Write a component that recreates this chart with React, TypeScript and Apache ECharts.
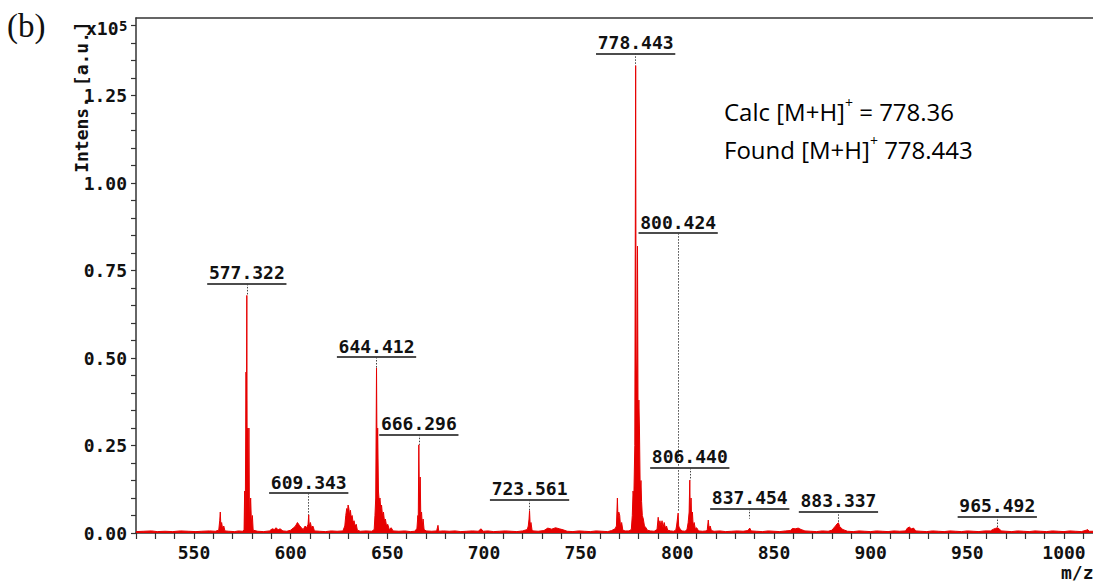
import React, { useEffect, useRef } from "react";
import * as echarts from "echarts";

// MALDI-TOF spectrum: [m/z, intensity (x10^5 a.u.)]
const spectrum: [number, number][] = [
  [520, 0.004], [524, 0.005], [528, 0.006], [531, 0.004], [535, 0.005], [539, 0.004], [543, 0.006], [547, 0.005],
  [551, 0.004], [554, 0.005], [558, 0.006], [561, 0.005],
  [562.8, 0.008], [563.3, 0.035], [563.6, 0.06], [563.9, 0.02], [564.3, 0.03], [564.8, 0.012], [565.4, 0.02], [566, 0.006],
  [568, 0.005], [571, 0.004], [573, 0.006], [575, 0.005],
  [575.9, 0.008], [576.2, 0.12], [576.5, 0.01], [576.9, 0.46], [577.1, 0.3], [577.322, 0.679], [577.5, 0.2], [577.8, 0.3],
  [578.1, 0.05], [578.4, 0.3], [578.7, 0.03], [579.3, 0.1], [579.7, 0.03], [580.2, 0.05], [580.6, 0.008],
  [583, 0.005], [586, 0.004], [589, 0.006], [590.5, 0.012], [591.5, 0.01], [592.5, 0.015], [593.5, 0.009], [594.5, 0.012],
  [596, 0.006], [598, 0.005], [600, 0.008], [601.5, 0.015], [602.5, 0.02], [603.5, 0.03], [604.5, 0.022], [605.5, 0.015],
  [606.5, 0.01], [607.5, 0.02], [608.3, 0.015], [609.0, 0.025], [609.343, 0.052], [609.6, 0.02], [610.2, 0.03], [610.8, 0.015],
  [611.5, 0.02], [612.3, 0.006],
  [615, 0.005], [618, 0.004], [621, 0.006], [624, 0.005], [627, 0.006],
  [628.0, 0.02], [628.5, 0.05], [629.0, 0.07], [629.4, 0.06], [629.7, 0.08], [630.1, 0.07], [630.5, 0.05], [630.9, 0.065],
  [631.3, 0.045], [631.8, 0.05], [632.3, 0.03], [632.8, 0.035], [633.3, 0.02], [633.9, 0.025], [634.5, 0.008],
  [636, 0.005], [639, 0.006], [642, 0.005], [643.2, 0.01], [643.6, 0.05], [644.0, 0.1], [644.412, 0.472], [644.7, 0.2],
  [645.0, 0.3], [645.4, 0.12], [645.8, 0.09], [646.2, 0.1], [646.6, 0.07], [647.0, 0.08], [647.5, 0.05], [648.0, 0.06],
  [648.5, 0.035], [649.0, 0.04], [649.6, 0.02], [650.2, 0.025], [651, 0.01], [652, 0.015], [653, 0.006],
  [656, 0.005], [659, 0.006], [662, 0.004], [664, 0.005], [665.3, 0.012], [665.8, 0.05], [666.0, 0.04], [666.296, 0.252],
  [666.6, 0.08], [667.0, 0.16], [667.3, 0.05], [667.7, 0.06], [668.1, 0.02], [668.5, 0.04], [669, 0.01], [670, 0.006],
  [673, 0.005], [675.5, 0.006], [676.2, 0.022], [676.6, 0.005], [679, 0.006], [682, 0.005], [685, 0.006], [688, 0.004],
  [691, 0.005], [694, 0.006], [697, 0.005], [698.5, 0.012], [699.5, 0.005], [702, 0.006], [705, 0.004], [708, 0.005],
  [711, 0.006], [714, 0.005], [717, 0.004], [720, 0.006], [722.4, 0.01], [722.9, 0.02], [723.3, 0.04], [723.561, 0.064],
  [723.9, 0.02], [724.3, 0.03], [724.8, 0.01], [725.5, 0.006],
  [728, 0.005], [731, 0.007], [733, 0.014], [735, 0.011], [737, 0.015], [739, 0.012], [741, 0.009], [743, 0.005],
  [746, 0.004], [749, 0.006], [752, 0.005], [755, 0.004], [758, 0.006], [761, 0.005], [764, 0.004], [766, 0.007],
  [767.8, 0.012], [768.5, 0.02], [769.0, 0.1], [769.3, 0.04], [769.7, 0.06], [770.2, 0.05], [770.6, 0.02], [771.2, 0.03],
  [771.8, 0.008], [773, 0.006], [775, 0.006],
  [776.2, 0.01], [776.7, 0.05], [777.1, 0.12], [777.5, 0.1], [778.0, 0.25], [778.443, 1.336], [778.7, 0.4], [779.1, 0.5],
  [779.4, 0.82], [779.7, 0.3], [780.1, 0.38], [780.4, 0.3], [780.8, 0.12], [781.2, 0.15], [781.5, 0.09], [781.9, 0.05],
  [782.4, 0.04], [783, 0.02], [783.8, 0.015], [784.5, 0.008],
  [786, 0.006], [788, 0.005], [789.5, 0.01], [790.1, 0.045], [790.5, 0.02], [791, 0.035], [791.5, 0.02], [792.1, 0.035],
  [792.6, 0.015], [793.2, 0.03], [793.8, 0.015], [794.4, 0.02], [795, 0.008], [796.5, 0.006], [798, 0.005], [799.2, 0.008],
  [799.6, 0.02], [800.424, 0.057], [800.7, 0.02], [801.1, 0.015], [801.6, 0.01], [802.5, 0.006],
  [804, 0.005], [805, 0.01], [805.6, 0.03], [806.1, 0.06], [806.44, 0.151], [806.7, 0.05], [807.1, 0.1], [807.4, 0.04],
  [807.8, 0.06], [808.2, 0.02], [808.7, 0.03], [809.3, 0.012], [810, 0.015], [811, 0.006],
  [813, 0.005], [815, 0.006], [815.5, 0.01], [816, 0.037], [816.4, 0.015], [817, 0.02], [817.6, 0.007], [819, 0.005],
  [822, 0.006], [825, 0.004], [828, 0.005], [831, 0.006], [834, 0.005], [836.5, 0.007], [837.454, 0.014], [838.2, 0.006],
  [841, 0.005], [844, 0.004], [847, 0.006], [850, 0.005], [853, 0.004], [856, 0.006], [858.5, 0.007], [859.5, 0.013],
  [861, 0.012], [862.5, 0.014], [864, 0.01], [866, 0.006], [869, 0.005], [872, 0.004], [875, 0.006], [878, 0.005],
  [880, 0.008], [881, 0.015], [881.8, 0.02], [882.6, 0.026], [883.337, 0.029], [884, 0.018], [884.8, 0.014], [885.6, 0.01],
  [886.6, 0.008], [888, 0.005], [891, 0.004], [894, 0.006], [897, 0.005], [900, 0.004], [903, 0.006], [906, 0.005],
  [909, 0.004], [912, 0.006], [915, 0.005], [918, 0.006], [919, 0.014], [920, 0.017], [921, 0.012], [922.2, 0.014],
  [923.3, 0.006], [926, 0.005], [929, 0.004], [932, 0.006], [935, 0.005], [938, 0.004], [941, 0.006], [944, 0.005],
  [947, 0.004], [950, 0.006], [953, 0.005], [956, 0.004], [959, 0.006], [962, 0.006], [963.5, 0.011], [964.5, 0.013],
  [965.492, 0.015], [966.5, 0.012], [967.5, 0.006], [970, 0.005], [973, 0.004], [976, 0.006], [979, 0.005], [982, 0.004],
  [985, 0.006], [988, 0.005], [991, 0.004], [994, 0.006], [997, 0.005], [1000, 0.004], [1003, 0.006], [1006, 0.005],
  [1009, 0.004], [1011.5, 0.008], [1012.2, 0.01], [1013, 0.005], [1015, 0.005],
];

// Annotated peaks
const peakLabels = ["577.322", "609.343", "644.412", "666.296", "723.561", "778.443", "800.424", "806.440", "837.454", "883.337", "965.492"];
const peakMz = [577.322, 609.343, 644.412, 666.296, 723.561, 778.443, 800.424, 806.44, 837.454, 883.337, 965.492];
// intensity where each dotted leader ends
const peakTop = [0.679, 0.052, 0.472, 0.252, 0.064, 1.336, 0.062, 0.151, 0.041, 0.029, 0.015];
// intensity level of each label's underline
const labelLevel = [0.712, 0.114, 0.503, 0.281, 0.095, 1.371, 0.857, 0.186, 0.069, 0.062, 0.047];

const X_MIN = 520;
const X_MAX = 1015;
const Y_MAX = 1.472;
const UNDERLINE_HALF = 20.5;

const RED = "#e60000";
const INK = "#111111";
const MONO = "'DejaVu Sans Mono', monospace";
const SANS = "'Open Sans', 'Noto Sans', sans-serif";

export default function App() {
  const ref = useRef<HTMLDivElement>(null);

  useEffect(() => {
    if (!ref.current) return;
    const chart = echarts.init(ref.current, undefined, { renderer: "svg" });

    // label text sits above an underline centred on the peak
    const underlines = peakMz.map((m, i) => [
      { coord: [m - UNDERLINE_HALF, labelLevel[i]], name: peakLabels[i] },
      { coord: [m + UNDERLINE_HALF, labelLevel[i]] },
    ]);
    // dotted leader from the underline down to the peak
    const leaders = peakMz.map((m, i) => [
      { coord: [m, labelLevel[i]] },
      { coord: [m, peakTop[i]] },
    ]);

    const axisFont = { fontFamily: MONO, fontWeight: "bold" as const, fontSize: 18, color: INK };

    const richSuper = {
      m: { fontFamily: SANS, fontSize: 24, color: "#111", lineHeight: 32 },
      s: { fontFamily: SANS, fontSize: 14, color: "#111", verticalAlign: "top", lineHeight: 19 },
    };

    chart.setOption({
      animation: false,
      backgroundColor: "#ffffff",
      grid: { left: 136, right: 0, top: 18, bottom: 49, containLabel: false },
      xAxis: [
        {
          type: "value",
          min: X_MIN,
          max: X_MAX,
          interval: 10,
          axisLine: { show: true, onZero: false, lineStyle: { color: "#333", width: 1.5 } },
          axisTick: { show: true, length: 6, inside: false, lineStyle: { color: "#333", width: 1.2 } },
          axisLabel: {
            ...axisFont,
            margin: 10,
            showMaxLabel: false,
            formatter: (v: number) => (Math.round(v) % 50 === 0 ? String(Math.round(v)) : ""),
          },
          splitLine: { show: false },
        },
        {
          type: "value",
          position: "top",
          min: X_MIN,
          max: X_MAX,
          axisLine: { show: true, onZero: false, lineStyle: { color: "#333", width: 1.5 } },
          axisTick: { show: false },
          axisLabel: { show: false },
          splitLine: { show: false },
        },
      ],
      yAxis: {
        type: "value",
        min: 0,
        max: Y_MAX,
        interval: 0.05,
        axisLine: { show: true, onZero: false, lineStyle: { color: "#333", width: 1.5 } },
        axisTick: { show: true, length: 5, lineStyle: { color: "#333", width: 1.2 } },
        axisLabel: {
          ...axisFont,
          margin: 9,
          showMaxLabel: false,
          formatter: (v: number) => {
            const r = Math.round(v * 100);
            return r % 25 === 0 ? (r / 100).toFixed(2) : "";
          },
        },
        splitLine: { show: false },
      },
      series: [
        {
          name: "spectrum",
          type: "line",
          data: spectrum,
          showSymbol: false,
          symbol: "none",
          lineStyle: { color: RED, width: 1 },
          areaStyle: { color: RED, opacity: 1 },
          silent: true,
          z: 3,
        },
        {
          name: "peak labels",
          type: "line",
          data: [],
          silent: true,
          z: 5,
          markLine: {
            silent: true,
            symbol: ["none", "none"],
            lineStyle: { color: INK, width: 1.5, type: "solid" },
            label: {
              show: true,
              position: "insideMiddleTop",
              distance: 2,
              formatter: "{b}",
              ...axisFont,
            },
            data: underlines,
          },
        },
        {
          name: "leaders",
          type: "line",
          data: [],
          silent: true,
          z: 4,
          markLine: {
            silent: true,
            symbol: ["none", "none"],
            label: { show: false },
            lineStyle: { color: "#444", width: 1, type: [1.5, 1.5] },
            data: leaders,
          },
        },
      ],
      graphic: [
        {
          type: "text",
          x: 7,
          y: 9,
          style: { text: "(b)", font: "33px 'Liberation Serif', serif", fill: "#111" },
        },
        {
          type: "text",
          x: 86,
          y: 37,
          style: { text: "x10", font: `bold 18px ${MONO}`, fill: INK, verticalAlign: "bottom" },
        },
        {
          type: "text",
          x: 119,
          y: 33,
          style: { text: "5", font: `bold 14px ${MONO}`, fill: INK, verticalAlign: "bottom" },
        },
        {
          type: "text",
          x: 81,
          y: 97,
          rotation: Math.PI / 2,
          style: {
            text: "Intens. [a.u.]",
            font: `bold 18px ${MONO}`,
            fill: INK,
            align: "center",
            verticalAlign: "middle",
          },
        },
        {
          type: "text",
          x: 1061,
          y: 572,
          style: { text: "m/z", font: `bold 18px ${MONO}`, fill: INK, verticalAlign: "middle" },
        },
        {
          type: "text",
          x: 724,
          y: 111,
          style: { text: "{m|Calc [M+H]}{s|+}{m| = 778.36}", verticalAlign: "middle", rich: richSuper },
        },
        {
          type: "text",
          x: 724,
          y: 149,
          style: { text: "{m|Found [M+H]}{s|+}{m| 778.443}", verticalAlign: "middle", rich: richSuper },
        },
      ],
    });

    return () => chart.dispose();
  }, []);

  return (
    <div
      ref={ref}
      style={{ position: "fixed", left: 0, top: 0, width: 1093, height: 582, background: "#fff" }}
    />
  );
}
